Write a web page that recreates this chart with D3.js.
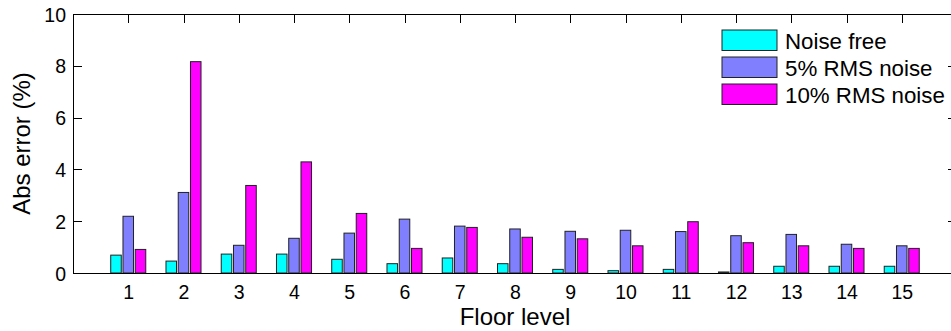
<!DOCTYPE html>
<html>
<head>
<meta charset="utf-8">
<script src="https://cdn.jsdelivr.net/npm/d3@7"></script>
<style>
  body { margin: 0; background: #fff; }
  svg { display: block; font-family: "Liberation Sans", Arial, sans-serif; }
</style>
</head>
<body>
<div id="chart"></div>
<script>
// floor levels and absolute error (%) per noise level
const floors = [1, 2, 3, 4, 5, 6, 7, 8, 9, 10, 11, 12, 13, 14, 15];
const noiseFree = [0.69, 0.46, 0.73, 0.73, 0.53, 0.36, 0.58, 0.36, 0.14, 0.09, 0.14, 0.04, 0.26, 0.26, 0.26];
const rms5 = [2.19, 3.11, 1.07, 1.34, 1.54, 2.08, 1.81, 1.70, 1.61, 1.65, 1.60, 1.44, 1.49, 1.11, 1.05];
const rms10 = [0.91, 8.16, 3.38, 4.29, 2.30, 0.95, 1.76, 1.38, 1.32, 1.05, 1.98, 1.17, 1.05, 0.95, 0.95];
const seriesNames = ['Noise free', '5% RMS noise', '10% RMS noise'];
const seriesColors = ['#00ffff', '#8080ff', '#ff00ff'];
const yTicks = [0, 2, 4, 6, 8, 10];

const width = 951, height = 331;
const plot = { left: 73, right: 957, top: 14, bottom: 273 };

const svg = d3.select('#chart').append('svg')
  .attr('width', width)
  .attr('height', height);

const x = d3.scaleLinear().domain([0, 16]).range([plot.left, plot.right]);
const y = d3.scaleLinear().domain([0, 10]).range([plot.bottom, plot.top]);

// series offsets inside a group, in data units around the floor value
const inner = d3.scaleBand()
  .domain(seriesNames)
  .range([-0.317, 0.317])
  .paddingInner(0.14);

const tickLen = 9;

// axes (ticks drawn first so bars sit on top of the bottom ticks)
const bottomAxis = svg.append('g')
  .attr('transform', `translate(0,${plot.bottom})`)
  .call(d3.axisBottom(x).tickValues(floors).tickFormat(d3.format('d'))
    .tickSizeInner(-tickLen).tickSizeOuter(0).tickPadding(12));

const topAxis = svg.append('g')
  .attr('transform', `translate(0,${plot.top})`)
  .call(d3.axisTop(x).tickValues(floors).tickFormat('')
    .tickSizeInner(-tickLen).tickSizeOuter(0));

const leftAxis = svg.append('g')
  .attr('transform', `translate(${plot.left},0)`)
  .call(d3.axisLeft(y).tickValues(yTicks).tickFormat(d3.format('d'))
    .tickSizeInner(-tickLen).tickSizeOuter(0).tickPadding(7));

const rightAxis = svg.append('g')
  .attr('transform', `translate(${plot.right},0)`)
  .call(d3.axisRight(y).tickValues(yTicks).tickFormat('')
    .tickSizeInner(-tickLen).tickSizeOuter(0));

[bottomAxis, topAxis, leftAxis, rightAxis].forEach(g => {
  g.selectAll('path.domain').attr('stroke', '#000').attr('stroke-width', 1).attr('shape-rendering', 'crispEdges');
  g.selectAll('line').attr('stroke', '#000').attr('stroke-width', 1).attr('shape-rendering', 'crispEdges');
  g.selectAll('text')
    .attr('fill', '#000')
    .style('font-size', '19.5px')
    .style('font-family', '"Liberation Sans", Arial, sans-serif');
});
leftAxis.selectAll('text').attr('dy', '0.36em');

// bars
const seriesData = [noiseFree, rms5, rms10];
seriesData.forEach((vals, si) => {
  svg.append('g')
    .selectAll('rect')
    .data(vals.map((v, i) => ({ floor: floors[i], v: v })))
    .enter()
    .append('rect')
    .attr('x', d => x(d.floor + inner(seriesNames[si])))
    .attr('width', d => x(d.floor + inner(seriesNames[si]) + inner.bandwidth()) - x(d.floor + inner(seriesNames[si])))
    .attr('y', d => y(d.v))
    .attr('height', d => y(0) - y(d.v))
    .attr('fill', seriesColors[si])
    .attr('stroke', '#222')
    .attr('stroke-width', 1);
});

// redraw baseline on top of bars
svg.append('line')
  .attr('x1', plot.left).attr('x2', plot.right)
  .attr('y1', plot.bottom).attr('y2', plot.bottom)
  .attr('stroke', '#000').attr('stroke-width', 1).attr('shape-rendering', 'crispEdges');

// axis labels
svg.append('text')
  .attr('x', (plot.left + plot.right) / 2)
  .attr('y', 325)
  .attr('text-anchor', 'middle')
  .style('font-size', '24px')
  .text('Floor level');

svg.append('text')
  .attr('transform', `translate(30,${(plot.top + plot.bottom) / 2}) rotate(-90)`)
  .attr('text-anchor', 'middle')
  .style('font-size', '24px')
  .text('Abs error (%)');

// legend
const legend = svg.append('g').attr('transform', 'translate(722,30)');
seriesNames.forEach((name, i) => {
  const row = legend.append('g').attr('transform', `translate(0,${i * 27})`);
  row.append('rect')
    .attr('width', 55).attr('height', 20.5)
    .attr('fill', seriesColors[i])
    .attr('stroke', '#222').attr('stroke-width', 1);
  row.append('text')
    .attr('x', 63).attr('y', 10.5)
    .attr('dy', '0.36em')
    .style('font-size', '22.3px')
    .text(name);
});
</script>
</body>
</html>
